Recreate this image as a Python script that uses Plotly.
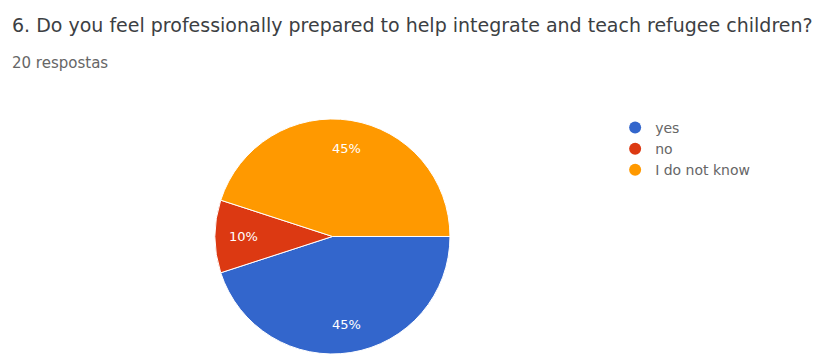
import math
import plotly.graph_objects as go

# Survey responses (20 total)
labels = ["yes", "no", "I do not know"]
counts = [9, 2, 9]
colors = ["#3366cc", "#dc3912", "#ff9900"]

title_text = "6. Do you feel professionally prepared to help integrate and teach refugee children?"
subtitle_text = "20 respostas"

W, H = 818, 354
FONT = "DejaVu Sans"

# Pie placement (paper fractions); the domain is square in pixels
pie_x = [0.2628, 0.5501]
pie_y = [0.0, 0.664]
START = 90  # first slice starts at 3 o'clock, going clockwise

fig = go.Figure()

fig.add_trace(go.Pie(
    labels=labels,
    values=counts,
    marker=dict(colors=colors, line=dict(color="white", width=1)),
    sort=False,
    direction="clockwise",
    rotation=START,
    textinfo="none",
    showlegend=False,
    hoverinfo="label+percent",
    domain=dict(x=pie_x, y=pie_y),
))

# Legend entries drawn as round markers
for lab, col in zip(labels, colors):
    fig.add_trace(go.Scatter(
        x=[None], y=[None], mode="markers", name=lab,
        marker=dict(symbol="circle", size=12, color=col),
        showlegend=True,
    ))

# Percentage labels placed at ~3/4 of the radius on each slice's mid angle
cx_px = (pie_x[0] + pie_x[1]) / 2 * W
cy_px = H - (pie_y[0] + pie_y[1]) / 2 * H
r_px = (pie_y[1] - pie_y[0]) * H / 2
total = sum(counts)
annotations = []
cum = 0.0
for v in counts:
    frac = v / total
    theta = math.radians(START + 360 * (cum + frac / 2))
    px = cx_px + 0.76 * r_px * math.sin(theta)
    py = cy_px - 0.76 * r_px * math.cos(theta)
    annotations.append(dict(
        text=f"{round(frac * 100)}%", x=px / W, y=1 - py / H,
        xref="paper", yref="paper", xanchor="center", yanchor="middle",
        showarrow=False, font=dict(family=FONT, size=13, color="white"),
    ))
    cum += frac

annotations += [
    dict(text=title_text, x=10 / W, y=1 - 25 / H, xref="paper", yref="paper",
         xanchor="left", yanchor="middle", showarrow=False,
         font=dict(family=FONT, size=19, color="#3c4043")),
    dict(text=subtitle_text, x=10 / W, y=1 - 63 / H, xref="paper", yref="paper",
         xanchor="left", yanchor="middle", showarrow=False,
         font=dict(family=FONT, size=15, color="#666666")),
]

fig.update_layout(
    width=W, height=H,
    margin=dict(l=0, r=0, t=0, b=0),
    paper_bgcolor="white",
    plot_bgcolor="white",
    xaxis=dict(visible=False),
    yaxis=dict(visible=False),
    legend=dict(
        x=0.752, y=0.684, xanchor="left", yanchor="top",
        font=dict(family=FONT, size=14, color="#666666"),
        itemwidth=30, tracegroupgap=0,
        bgcolor="rgba(0,0,0,0)",
    ),
    annotations=annotations,
)

fig.write_html("out.html")
